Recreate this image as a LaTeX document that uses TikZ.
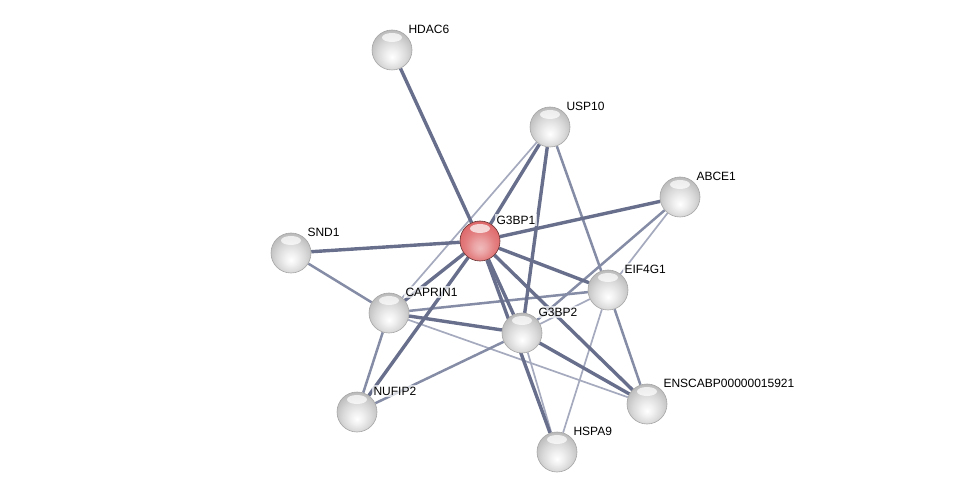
\documentclass[tikz,border=0pt]{standalone}
\usepackage{fontspec}
\setmainfont{Liberation Sans}
\usepackage{tikz}
\usetikzlibrary{backgrounds}
\definecolor{strong}{RGB}{104, 111, 140}
\definecolor{medium}{RGB}{133, 140, 165}
\definecolor{weak}{RGB}{165, 170, 190}
\definecolor{protred}{RGB}{222, 104, 106}

% glossy protein balls
\pgfdeclareradialshading{grayball}{\pgfpoint{0bp}{-9bp}}{%
  color(0bp)=(white); color(8bp)=(white!94!black); color(18bp)=(white!85!black);
  color(28bp)=(white!74!black); color(34bp)=(white!64!black); color(50bp)=(white!55!black)}
\pgfdeclareradialshading{redball}{\pgfpoint{0bp}{-9bp}}{%
  color(0bp)=(protred!45!white); color(8bp)=(protred!60!white); color(18bp)=(protred!85!white);
  color(28bp)=(protred); color(34bp)=(protred!80!black); color(50bp)=(protred!55!black)}

\tikzset{
  prot/.style={circle, minimum size=40pt, inner sep=0pt, shading=grayball,
    draw=black!35, line width=0.6pt,
    path picture={\fill[white, opacity=0.7]
      ([yshift=12.5pt]path picture bounding box.center) ellipse [x radius=10pt, y radius=4.5pt];},
    label={[lbl]north east:#1}},
  seed/.style={prot=#1, shading=redball, draw=protred!45!black},
  lbl/.style={anchor=south west, inner sep=2pt, fill=white, fill opacity=0.7,
    text opacity=1, font=\fontsize{12}{14}\selectfont},
  hi/.style={strong, line width=3.4pt},
  mid/.style={medium, line width=2.5pt},
  lo/.style={weak, line width=1.7pt}
}

\begin{document}
\begin{tikzpicture}[x=1pt, y=-1pt]
    \useasboundingbox (0,0) rectangle (975,497);

    % Proteins
    \node[seed=G3BP1] (g3bp1) at (480, 241) {};
    \node[prot=HDAC6] (hdac6) at (392, 50) {};
    \node[prot=USP10] (usp10) at (550, 127) {};
    \node[prot=ABCE1] (abce1) at (680, 197) {};
    \node[prot=SND1] (snd1) at (291, 253) {};
    \node[prot=EIF4G1] (eif4g1) at (608, 290) {};
    \node[prot=CAPRIN1] (caprin1) at (389, 313) {};
    \node[prot=G3BP2] (g3bp2) at (522, 333) {};
    \node[prot=NUFIP2] (nufip2) at (357, 412) {};
    \node[prot=ENSCABP00000015921] (enscabp) at (647, 404) {};
    \node[prot=HSPA9] (hspa9) at (557, 452) {};

    % Interactions, behind the proteins
    \begin{scope}[on background layer]
        % weak
        \draw[lo] (usp10) -- (caprin1);
        \draw[lo] (abce1) -- (eif4g1);
        \draw[lo] (eif4g1) -- (g3bp2);
        \draw[lo] (eif4g1) -- (hspa9);
        \draw[lo] (caprin1) -- (enscabp);
        \draw[lo] (g3bp2) -- (hspa9);

        % medium
        \draw[mid] (snd1) -- (caprin1);
        \draw[mid] (abce1) -- (g3bp2);
        \draw[mid] (caprin1) -- (nufip2);
        \draw[mid] (g3bp2) -- (nufip2);
        \draw[mid] (eif4g1) -- (enscabp);
        \draw[mid] (usp10) -- (eif4g1);
        \draw[mid] (caprin1) -- (eif4g1);

        % strong
        \draw[hi] (g3bp1) -- (hdac6);
        \draw[hi] (g3bp1) -- (usp10);
        \draw[hi] (g3bp1) -- (abce1);
        \draw[hi] (g3bp1) -- (snd1);
        \draw[hi] (g3bp1) -- (caprin1);
        \draw[hi] (g3bp1) -- (g3bp2);
        \draw[hi] (g3bp1) -- (hspa9);
        \draw[hi] (g3bp1) -- (eif4g1);
        \draw[hi] (g3bp1) -- (enscabp);
        \draw[hi] (g3bp1) -- (nufip2);
        \draw[hi] (usp10) -- (g3bp2);
        \draw[hi] (caprin1) -- (g3bp2);
        \draw[hi] (g3bp2) -- (enscabp);
    \end{scope}
\end{tikzpicture}
\end{document}
